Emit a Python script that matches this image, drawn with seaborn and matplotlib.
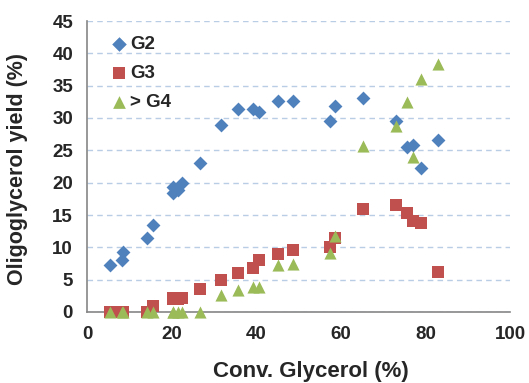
import numpy as np
import pandas as pd
import matplotlib
matplotlib.use("Agg")
import matplotlib.pyplot as plt
import seaborn as sns

conv = [5.4, 8.2, 8.4, 14.3, 15.5, 20.3, 20.4, 21.6, 22.5, 26.7, 31.6, 35.8,
        39.2, 40.7, 45.1, 48.6, 57.5, 58.7, 65.2, 73.0, 75.7, 77.0, 79.0, 82.9]
g2 = [7.2, 8.0, 9.3, 11.5, 13.4, 19.3, 18.4, 18.9, 19.9, 23.0, 28.9, 31.4,
      31.4, 30.9, 32.6, 32.7, 29.6, 31.8, 33.1, 29.6, 25.5, 25.8, 22.2, 26.6]
g3 = [0, 0, 0, 0, 0.9, 2.1, 2.0, 2.0, 2.2, 3.6, 5.0, 6.1,
      6.8, 8.1, 9.0, 9.6, 10.1, 11.4, 15.9, 16.5, 15.3, 14.1, 13.7, 6.2]
g4 = [0, 0, 0, 0, 0, 0, 0, 0, 0, 0, 2.6, 3.4,
      3.8, 3.8, 7.2, 7.5, 9.2, 11.8, 25.7, 28.7, 32.5, 23.9, 36.1, 38.4]
series_names = ["G2", "G3", "> G4"]
x_ticks = [0, 20, 40, 60, 80, 100]
y_ticks = [0, 5, 10, 15, 20, 25, 30, 35, 40, 45]

df = pd.DataFrame({"conv": conv, "G2": g2, "G3": g3, "> G4": g4})
long = df.melt(id_vars="conv", value_vars=series_names, var_name="series", value_name="yield")

sns.set_style("white")
plt.rcParams['font.family'] = ['Liberation Sans', 'DejaVu Sans']

fig = plt.figure(figsize=(5.29, 3.83), dpi=100)
ax = fig.add_axes([87/529, 1 - 312/383, (510 - 87)/529, (312 - 21)/383])

palette = {"G2": "#4F81BD", "G3": "#C0504D", "> G4": "#9BBB59"}
markers = {"G2": "D", "G3": "s", "> G4": "^"}
sizes = {"G2": 50, "G3": 68, "> G4": 76}
for name in series_names:
    sub = long[long["series"] == name]
    sns.scatterplot(data=sub, x="conv", y="yield", color=palette[name],
                    marker=markers[name], s=sizes[name], linewidth=0,
                    ax=ax, label=name, zorder=3, clip_on=False)

ax.set_xlim(0, 100)
ax.set_ylim(0, 45)
ax.set_xticks(x_ticks)
ax.set_yticks(y_ticks)
ax.yaxis.grid(True, linestyle=(0, (4, 3)), color="#B9CDE5", linewidth=1)
ax.xaxis.grid(False)
for s in ["top", "right"]:
    ax.spines[s].set_visible(False)
for s in ["left", "bottom"]:
    ax.spines[s].set_color("#868686")
    ax.spines[s].set_linewidth(1.2)
ax.tick_params(axis="both", direction="out", length=5, width=1, color="#868686",
               labelsize=13.5, pad=5)
for lab in ax.get_xticklabels() + ax.get_yticklabels():
    lab.set_fontweight("bold")
ax.set_xlabel("Conv. Glycerol (%)", fontsize=16, fontweight="bold")
ax.xaxis.set_label_coords(0.53, -0.17)
ax.set_ylabel("Oligoglycerol yield (%)", fontsize=15.5, fontweight="bold")
ax.yaxis.set_label_coords(-0.14, 0.49)

leg = ax.legend(loc="upper left", bbox_to_anchor=(0.02, 0.99), frameon=False,
                prop={"weight": "bold", "size": 13.5}, handletextpad=0.0,
                labelspacing=0.62, borderaxespad=0.25, handlelength=1.2,
                markerscale=1.05)

fig.savefig("out.png", dpi=100)
